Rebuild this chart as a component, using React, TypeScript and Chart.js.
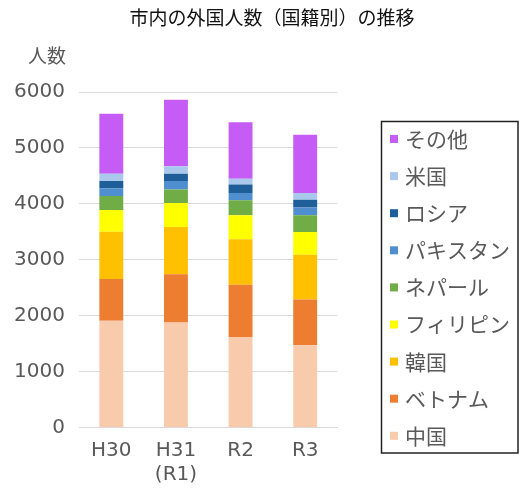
import React, { useEffect, useRef } from "react";
import { Chart, registerables } from "chart.js";

Chart.register(...registerables);

const categories: (string | string[])[] = ["H30", ["H31", "(R1)"], "R2", "R3"];
const yTicks = [0, 1000, 2000, 3000, 4000, 5000, 6000];

const china = [1910, 1880, 1620, 1470];
const vietnam = [745, 860, 935, 820];
const korea = [845, 845, 810, 800];
const philippines = [390, 430, 430, 405];
const nepal = [250, 240, 270, 300];
const pakistan = [135, 155, 130, 140];
const russia = [135, 130, 150, 140];
const usa = [130, 130, 105, 120];
const others = [1070, 1190, 1010, 1040];

const seriesNames = ["中国", "ベトナム", "韓国", "フィリピン", "ネパール", "パキスタン", "ロシア", "米国", "その他"];
const seriesValues = [china, vietnam, korea, philippines, nepal, pakistan, russia, usa, others];
const seriesColors = ["#f8cbad", "#ed7d31", "#ffc000", "#ffff00", "#70ad47", "#4f8fd0", "#1f5f99", "#a9c8ec", "#c55cf5"];

const titleText = "市内の外国人数（国籍別）の推移";
const yAxisTitle = "人数";
const FONT = '"Noto Sans CJK JP", "Noto Sans", sans-serif';
const NUMFONT = '"DejaVu Sans", sans-serif';
const GRAY = "#595959";

const overlayPlugin = {
  id: "overlay",
  afterDraw(chart: any) {
    const ctx = chart.ctx as CanvasRenderingContext2D;
    ctx.save();
    // title
    ctx.fillStyle = "#111";
    ctx.font = `19px ${FONT}`;
    ctx.textAlign = "center";
    ctx.textBaseline = "middle";
    ctx.fillText(titleText, 272, 18);
    // y axis title
    ctx.fillStyle = GRAY;
    ctx.font = `19px ${FONT}`;
    ctx.fillText(yAxisTitle, 47, 56);
    // legend box
    ctx.strokeStyle = "#222";
    ctx.lineWidth = 1.5;
    ctx.strokeRect(381.5, 121.5, 136.5, 331.5);
    const ds = chart.data.datasets;
    ctx.textAlign = "left";
    ctx.font = `21px ${FONT}`;
    for (let k = 0; k < ds.length; k++) {
      const i = ds.length - 1 - k;
      const y = 139 + k * 37.1;
      ctx.fillStyle = ds[i].backgroundColor;
      ctx.fillRect(390, y - 4, 8, 8);
      ctx.fillStyle = GRAY;
      ctx.fillText(ds[i].label, 405, y);
    }
    ctx.restore();
  },
};

export default function App() {
  const ref = useRef<HTMLCanvasElement>(null);
  useEffect(() => {
    const chart = new Chart(ref.current!, {
      type: "bar",
      data: {
        labels: categories as any,
        datasets: seriesNames.map((name, i) => ({
          label: name,
          data: seriesValues[i],
          backgroundColor: seriesColors[i],
          borderWidth: 0,
          barPercentage: 0.37,
          categoryPercentage: 1,
        })),
      },
      options: {
        responsive: false,
        animation: false,
        layout: { padding: { top: 92, right: 185.5, bottom: 1.5, left: 0 } },
        plugins: {
          legend: { display: false },
          title: { display: false },
          tooltip: { enabled: false },
        },
        scales: {
          x: {
            stacked: true,
            grid: { display: false, drawTicks: false },
            border: { display: true, color: "#d9d9d9" },
            ticks: { color: GRAY, font: { family: NUMFONT, size: 20, lineHeight: 1.2 }, padding: 11, maxRotation: 0 },
            afterFit: (s: any) => {
              s.height = 60;
            },
          },
          y: {
            stacked: true,
            min: 0,
            max: 6000,
            afterBuildTicks: (s: any) => {
              s.ticks = yTicks.map((v) => ({ value: v }));
            },
            grid: { color: "#d9d9d9", drawTicks: false },
            border: { display: false },
            ticks: {
              color: GRAY,
              font: { family: NUMFONT, size: 20 },
              padding: 14,
              callback: (v: any) => String(v),
            },
            afterFit: (s: any) => {
              s.width = 79;
            },
          },
        },
      },
      plugins: [overlayPlugin],
    });
    return () => chart.destroy();
  }, []);
  return (
    <div style={{ position: "fixed", left: 0, top: 0, width: 523, height: 489, background: "#fff" }}>
      <canvas ref={ref} width={523} height={489} />
    </div>
  );
}
